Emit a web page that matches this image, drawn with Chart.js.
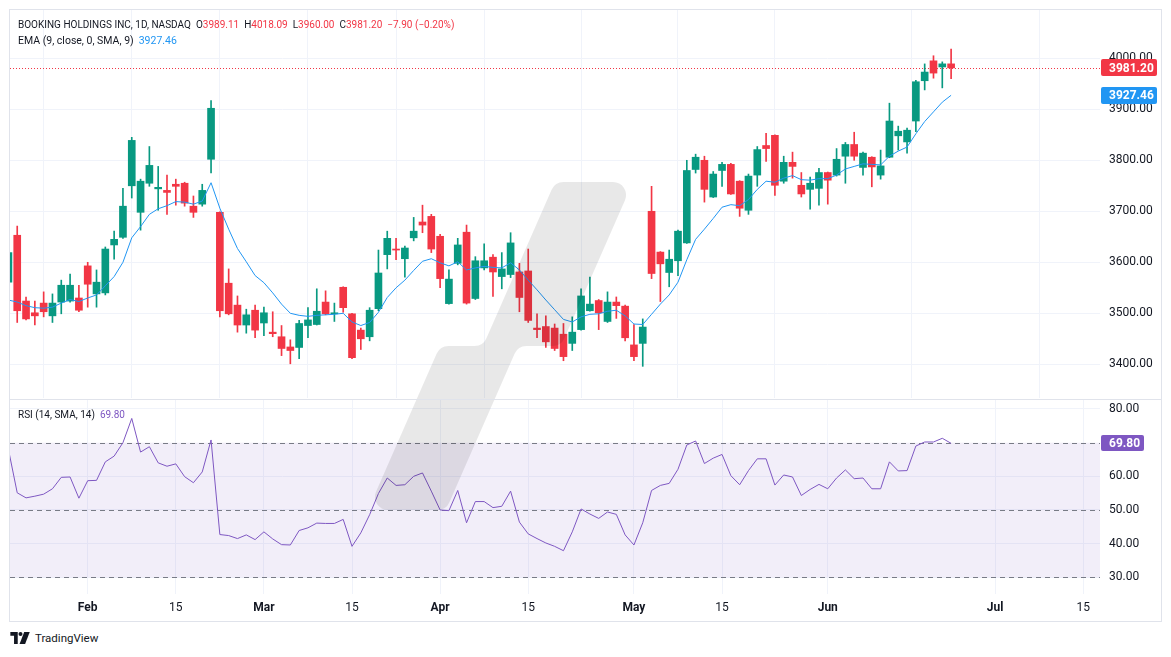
<!DOCTYPE html>
<html>
<head>
<meta charset="utf-8">
<script src="https://cdn.jsdelivr.net/npm/chart.js@4.4.1/dist/chart.umd.min.js"></script>
<style>
  html, body { margin:0; padding:0; background:#ffffff; width:1171px; height:657px; overflow:hidden; }
  body { position:relative; font-family: Roboto, "Liberation Sans", sans-serif; color:#131722; }
  .abs { position:absolute; }
  #frame { left:9px; top:9px; width:1153px; height:613px; box-sizing:border-box; border:1px solid #e0e3eb; }
  #sep { left:10px; top:399px; width:1151px; height:1px; background:#e0e3eb; z-index:3; }
  .hdr { font-size:10px; line-height:14px; white-space:pre; z-index:4; }
  .hdr .g { margin-left:5px; }
  .red { color:#f23645; } .blue { color:#2196f3; } .purple { color:#7e57c2; }
  #foot { left:10px; top:630px; font-size:11.5px; line-height:16px; display:flex; align-items:center; gap:4px; color:#131722; }
</style>
</head>
<body>
<div id="frame" class="abs"></div>
<canvas id="main" class="abs" width="1150" height="388" style="left:10px;top:10px;"></canvas>
<canvas id="rsi" class="abs" width="1150" height="222" style="left:10px;top:399px;"></canvas>
<canvas id="wm" class="abs" width="1171" height="657" style="left:0;top:0;z-index:2;pointer-events:none;"></canvas>
<div id="sep" class="abs"></div>
<div class="abs hdr" style="left:18px;top:18px;">BOOKING HOLDINGS INC, 1D, NASDAQ<span class="g">O</span><span class="red">3989.11</span><span class="g">H</span><span class="red">4018.09</span><span class="g">L</span><span class="red">3960.00</span><span class="g">C</span><span class="red">3981.20</span><span class="red g">−7.90 (−0.20%)</span></div>
<div class="abs hdr" style="left:18px;top:34px;font-size:10.5px;">EMA (9, close, 0, SMA, 9)<span class="blue g">3927.46</span></div>
<div class="abs hdr" style="left:18px;top:408px;">RSI (14, SMA, 14)<span class="purple g">69.80</span></div>
<div id="foot" class="abs">
  <svg width="21" height="12" viewBox="0 0 22 13"><path d="M0 0H8V13H4V4H0Z" fill="#131722"/><circle cx="11" cy="2.2" r="2.2" fill="#131722"/><path d="M15 0H21L16 13H10Z" fill="#131722"/></svg>
  <span>TradingView</span>
</div>
<script>
// ---- data ----
const dates = [
 "2024-01-19","2024-01-22","2024-01-23","2024-01-24","2024-01-25","2024-01-26","2024-01-29","2024-01-30","2024-01-31",
 "2024-02-01","2024-02-02","2024-02-05","2024-02-06","2024-02-07","2024-02-08","2024-02-09","2024-02-12","2024-02-13","2024-02-14","2024-02-15","2024-02-16","2024-02-20","2024-02-21","2024-02-22","2024-02-23","2024-02-26","2024-02-27","2024-02-28","2024-02-29",
 "2024-03-01","2024-03-04","2024-03-05","2024-03-06","2024-03-07","2024-03-08","2024-03-11","2024-03-12","2024-03-13","2024-03-14","2024-03-15","2024-03-18","2024-03-19","2024-03-20","2024-03-21","2024-03-22","2024-03-25","2024-03-26","2024-03-27","2024-03-28",
 "2024-04-01","2024-04-02","2024-04-03","2024-04-04","2024-04-05","2024-04-08","2024-04-09","2024-04-10","2024-04-11","2024-04-12","2024-04-15","2024-04-16","2024-04-17","2024-04-18","2024-04-19","2024-04-22","2024-04-23","2024-04-24","2024-04-25","2024-04-26","2024-04-29","2024-04-30",
 "2024-05-01","2024-05-02","2024-05-03","2024-05-06","2024-05-07","2024-05-08","2024-05-09","2024-05-10","2024-05-13","2024-05-14","2024-05-15","2024-05-16","2024-05-17","2024-05-20","2024-05-21","2024-05-22","2024-05-23","2024-05-24","2024-05-28","2024-05-29","2024-05-30","2024-05-31",
 "2024-06-03","2024-06-04","2024-06-05","2024-06-06","2024-06-07","2024-06-10","2024-06-11","2024-06-12","2024-06-13","2024-06-14","2024-06-17","2024-06-18","2024-06-20","2024-06-21","2024-06-24"
];
const openP = [3561,3653,3524,3501,3520,3495,3522,3524,3530,
 3593,3538,3540,3634,3649,3750,3698,3755,3744,3741,3753,3755,3710,3714,3802,3698,3559,3516,3477,3506,
 3481,3463,3454,3434,3433,3476,3478,3522,3499,3551,3499,3467,3454,3509,3615,3626,3607,3648,3679,3690,
 3651,3519,3598,3659,3529,3589,3610,3572,3576,3581,3583,3471,3474,3471,3459,3441,3468,3505,3525,3484,3522,3514,
 3438,3441,3700,3620,3580,3603,3638,3782,3800,3728,3780,3792,3759,3702,3771,3829,3849,3759,3796,3751,3743,3745,
 3776,3771,3808,3831,3786,3806,3771,3806,3848,3836,3877,3956,3995,3983,3989.11];
const highP = [3625,3671,3532,3524,3542,3538,3565,3577,3555,
 3600,3585,3630,3661,3745,3845,3763,3827,3788,3771,3763,3757,3730,3753,3917,3699,3587,3534,3508,3516,
 3512,3503,3476,3448,3486,3511,3548,3544,3520,3552,3500,3471,3511,3624,3661,3647,3632,3688,3712,3694,
 3655,3585,3647,3673,3611,3636,3615,3619,3658,3598,3626,3499,3495,3479,3480,3493,3548,3571,3527,3542,3532,3516,
 3478,3489,3749,3621,3624,3663,3800,3812,3808,3778,3796,3794,3760,3773,3827,3853,3850,3808,3816,3776,3767,3784,
 3777,3823,3835,3855,3816,3807,3820,3912,3867,3863,3957,3989,4005,3993,4018.09];
const lowP = [3552,3482,3487,3477,3493,3482,3499,3522,3503,
 3512,3512,3536,3606,3647,3726,3663,3749,3702,3694,3712,3710,3688,3710,3775,3493,3497,3463,3461,3452,
 3456,3454,3417,3401,3411,3452,3477,3497,3484,3502,3411,3429,3446,3505,3587,3605,3571,3642,3658,3619,
 3550,3518,3595,3518,3527,3585,3533,3548,3570,3503,3482,3452,3433,3427,3407,3427,3467,3504,3468,3482,3490,3446,
 3407,3396,3568,3523,3552,3574,3637,3775,3718,3727,3749,3733,3690,3694,3749,3798,3731,3755,3765,3728,3704,3712,
 3714,3769,3755,3800,3771,3748,3763,3805,3820,3814,3856,3938,3961,3942,3960.00];
const closeP = [3619,3505,3489,3495,3503,3520,3555,3555,3506,
 3557,3561,3626,3645,3710,3839,3759,3790,3747,3737,3749,3716,3698,3741,3902,3505,3499,3477,3497,3467,
 3501,3460,3431,3427,3480,3487,3504,3499,3501,3511,3413,3450,3506,3579,3647,3624,3628,3661,3673,3626,
 3568,3567,3634,3520,3603,3603,3581,3587,3638,3531,3486,3468,3444,3431,3415,3463,3534,3518,3501,3522,3515,3452,
 3415,3473,3578,3597,3606,3661,3780,3806,3743,3773,3792,3734,3706,3769,3821,3823,3751,3796,3788,3734,3755,3776,
 3761,3802,3831,3808,3814,3787,3789,3877,3857,3859,3954,3973,3971,3989.10,3981.20];
const ema9 = [3526,3522,3515,3511,3510,3512,3520,3527,3523,
 3530,3536,3554,3572,3600,3648,3670,3694,3705,3711,3719,3718,3714,3720,3756,3706,3665,3627,3601,3574,
 3560,3540,3518,3500,3496,3494,3496,3497,3498,3500,3483,3476,3482,3502,3531,3550,3565,3584,3602,3607,
 3599,3593,3601,3585,3589,3592,3590,3589,3599,3585,3565,3546,3526,3507,3488,3483,3493,3498,3499,3504,3506,3495,
 3479,3478,3498,3518,3536,3561,3605,3645,3665,3686,3708,3713,3711,3723,3743,3759,3757,3765,3770,3762,3761,3764,
 3764,3771,3783,3788,3793,3792,3791,3808,3818,3826,3852,3876,3895,3914,3927.46];
const rsi14 = [68,55.1,53.6,54.1,54.7,56.3,59.7,59.8,53.5,
 58.7,58.8,64.3,66,70,77.2,67.2,68.8,64,63,63.7,59.9,58.1,61.3,70.8,42.7,42.4,41.5,42.6,41.2,
 43.5,41.4,39.7,39.6,43.9,44.7,46.1,46,46,47.2,39.2,43.2,48.6,54.9,59.5,57.3,57.5,60,61,55.6,
 50,49.8,55.8,46.2,52.5,52.5,50.7,51.1,55.6,46.4,42.9,41.5,40.2,39.2,37.9,43.5,50.3,48.8,47.5,49.4,48.7,42.6,
 39.6,46.2,55.8,57.3,57.9,62.1,69.3,70.5,63.8,65.4,66.5,60.2,57.5,61.7,65.2,65.2,57.4,60.4,59.8,54.3,56.1,57.6,
 56.3,59.5,61.9,59.3,59.5,56.3,56.3,64.3,61.6,61.7,69,70.2,70.2,71.3,69.8];
const tickIndex = [9,19,29,39,49,59,71,81,93,112,122];
const tickText  = ["Feb","15","Mar","15","Apr","15","May","15","Jun","Jul","15"];
const priceTicks = [3400,3500,3600,3700,3800,3900,4000];
const rsiTicks = [30,40,50,60,80];
const rsiBands = [70,50,30];
const lastPrice = 3981.20;
const lastEma = 3927.46;
const lastRsi = 69.80;

// ---- styles ----
const GREEN = '#089981', RED = '#f23645', BLUE = '#2196f3', PURPLE = '#7e57c2';
const GRID = '#f0f3fa', TEXT = '#131722';
const X_MIN = 0.18, X_MAX = 123.9;

Chart.defaults.font.family = 'Roboto, "Liberation Sans", sans-serif';
Chart.defaults.font.size = 12;
Chart.defaults.color = TEXT;

const candleColor = i => closeP[i] >= openP[i] ? GREEN : RED;

function xAxis(showLabels) {
  return {
    type: 'linear', min: X_MIN, max: X_MAX, offset: false,
    afterBuildTicks: s => { s.ticks = tickIndex.map(v => ({ value: v })); },
    ticks: {
      display: showLabels, autoSkip: false, maxRotation: 0, padding: 7, color: TEXT,
      callback: (v) => { const k = tickIndex.indexOf(v); return k >= 0 ? tickText[k] : null; },
      font: (c) => ({ size: 12, weight: (tickText[c.index] === '15') ? 'normal' : 'bold' })
    },
    grid: { color: GRID, drawTicks: false },
    border: { display: false },
    afterFit: s => { s.height = showLabels ? 27 : 0; s.paddingLeft = 0; s.paddingRight = 0; }
  };
}
function yAxis(min, max, ticks, decimals) {
  return {
    position: 'right', min: min, max: max,
    afterBuildTicks: s => { s.ticks = ticks.map(v => ({ value: v })); },
    ticks: { padding: 9, color: TEXT, font: { size: 12 }, callback: v => Number(v).toFixed(decimals) },
    grid: { color: GRID, drawTicks: false },
    border: { display: false },
    afterFit: s => { s.width = 60; s.paddingTop = 0; s.paddingBottom = 0; }
  };
}
function badge(ctx, x, yc, w, h, bg, text) {
  ctx.save();
  ctx.fillStyle = bg;
  ctx.beginPath();
  ctx.roundRect(x, Math.round(yc - h / 2), w, h, 2);
  ctx.fill();
  ctx.fillStyle = '#ffffff';
  ctx.font = 'bold 12px Roboto, "Liberation Sans", sans-serif';
  ctx.textBaseline = 'middle';
  ctx.textAlign = 'left';
  ctx.fillText(text, x + 8, Math.round(yc) + 0.5);
  ctx.restore();
}

const mainDecor = {
  id: 'mainDecor',
  beforeDatasetsDraw(chart) {
    const { ctx, chartArea: a, scales: { y } } = chart;
    const py = Math.round(y.getPixelForValue(lastPrice)) + 0.5;
    ctx.save();
    ctx.strokeStyle = RED; ctx.lineWidth = 1; ctx.setLineDash([1, 2]);
    ctx.beginPath(); ctx.moveTo(a.left, py); ctx.lineTo(a.right, py); ctx.stroke();
    ctx.restore();
  },
  afterDraw(chart) {
    const { ctx, chartArea: a, scales: { y } } = chart;
    badge(ctx, a.right + 1, y.getPixelForValue(lastPrice), 56, 17, RED, lastPrice.toFixed(2));
    badge(ctx, a.right + 1, y.getPixelForValue(lastEma), 56, 17, BLUE, lastEma.toFixed(2));
  }
};
const rsiDecor = {
  id: 'rsiDecor',
  beforeDatasetsDraw(chart) {
    const { ctx, chartArea: a, scales: { y } } = chart;
    const y70 = y.getPixelForValue(70), y30 = y.getPixelForValue(30);
    ctx.save();
    ctx.fillStyle = 'rgba(126,87,194,0.1)';
    ctx.fillRect(a.left, y70, a.right - a.left, y30 - y70);
    ctx.strokeStyle = '#787b86'; ctx.lineWidth = 1; ctx.setLineDash([5, 4]);
    rsiBands.forEach(v => {
      const py = Math.round(y.getPixelForValue(v)) + 0.5;
      ctx.beginPath(); ctx.moveTo(a.left, py); ctx.lineTo(a.right, py); ctx.stroke();
    });
    ctx.restore();
  },
  afterDraw(chart) {
    const { ctx, chartArea: a, scales: { y } } = chart;
    badge(ctx, a.right + 1, y.getPixelForValue(lastRsi), 43, 16, PURPLE, lastRsi.toFixed(2));
  }
};

const common = { responsive: false, devicePixelRatio: 1, animation: false, events: [],
  layout: { padding: 0 }, plugins: { legend: { display: false }, tooltip: { enabled: false } } };

new Chart(document.getElementById('main'), {
  data: {
    datasets: [
      { type: 'line', label: 'EMA 9', order: 0,
        data: ema9.map((v, i) => ({ x: i, y: v })),
        borderColor: BLUE, borderWidth: 1, pointRadius: 0, tension: 0 },
      { type: 'bar', label: 'Body', order: 1, grouped: false,
        data: dates.map((d, i) => ({ x: i, y: [openP[i], closeP[i]] })),
        backgroundColor: c => candleColor(c.dataIndex), borderWidth: 0,
        barThickness: 7, minBarLength: 1 },
      { type: 'bar', label: 'Wick', order: 2, grouped: false,
        data: dates.map((d, i) => ({ x: i, y: [lowP[i], highP[i]] })),
        backgroundColor: c => candleColor(c.dataIndex), borderWidth: 0,
        barThickness: 1 }
    ]
  },
  options: Object.assign({}, common, {
    scales: { x: xAxis(false), y: yAxis(3333.9, 4094.7, priceTicks, 2) }
  }),
  plugins: [mainDecor]
});

new Chart(document.getElementById('rsi'), {
  type: 'line',
  data: {
    datasets: [
      { label: 'RSI 14', data: rsi14.map((v, i) => ({ x: i, y: v })),
        borderColor: PURPLE, borderWidth: 1, pointRadius: 0, tension: 0 }
    ]
  },
  options: Object.assign({}, common, {
    scales: { x: xAxis(true), y: yAxis(25.04, 82.97, rsiTicks, 2) }
  }),
  plugins: [rsiDecor]
});

// TradingView watermark (decoration)
(function () {
  const c = document.getElementById('wm').getContext('2d');
  const pts = [[555,182],[633,182],[561,346],[518,346],[446,510],[368,510],[440,346],[483,346]];
  const r = 13, n = pts.length;
  c.beginPath();
  c.moveTo((pts[n-1][0] + pts[0][0]) / 2, (pts[n-1][1] + pts[0][1]) / 2);
  for (let i = 0; i < n; i++) {
    const p = pts[i], q = pts[(i + 1) % n];
    c.arcTo(p[0], p[1], q[0], q[1], r);
  }
  c.closePath();
  c.fillStyle = 'rgba(0,0,0,0.09)';
  c.fill();
})();
</script>
</body>
</html>
